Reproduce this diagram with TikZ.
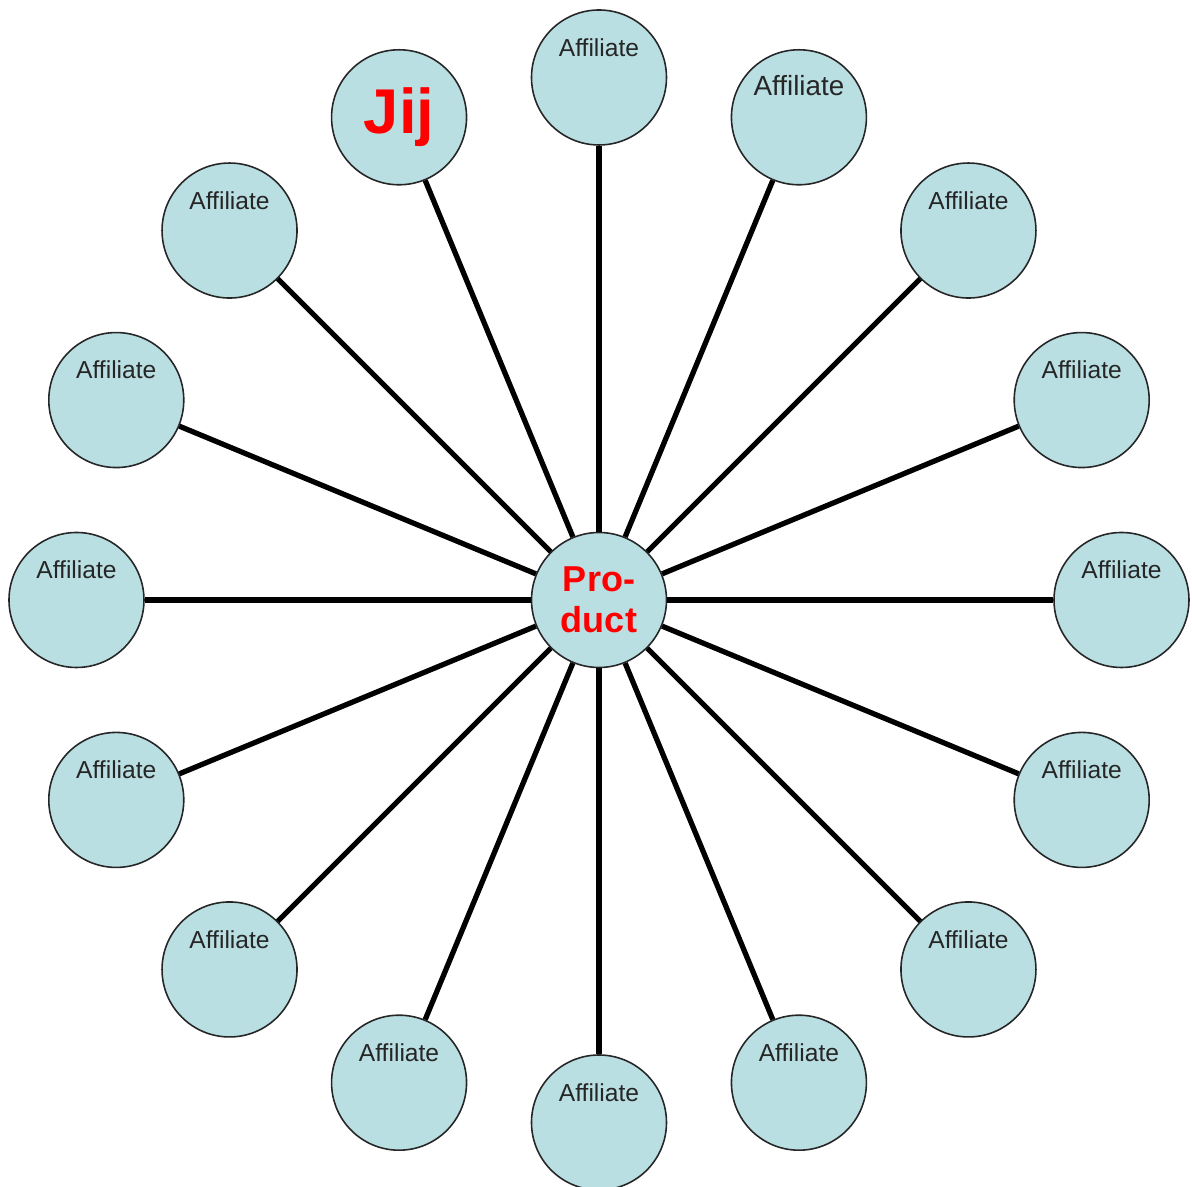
\documentclass[tikz,border=0pt]{standalone}
\usepackage{fontspec}
\setmainfont{Liberation Sans}
\usetikzlibrary{positioning}
\definecolor{affblue}{RGB}{186,223,227}

\begin{document}
\begin{tikzpicture}[
    circnode/.style={draw=black!85, line width=0.9pt, circle, fill=affblue, minimum size=2.7cm, inner sep=0pt},
    afftext/.style={anchor=base, inner sep=0pt, font=\fontsize{14}{16}\selectfont, text=black!85},
    spoke/.style={line width=3pt, black}
]
    \useasboundingbox (-11.98,-11.74) rectangle (11.86,12);
    \node[circnode, font=\fontsize{20.5}{23.3}\selectfont\bfseries, text=red, align=center] (prod) at (0,0) {Pro-\\duct};
    % affiliates round the product
    \foreach \n in {0,2,3,...,14} {
        \node[circnode] (aff\n) at ({90-22.5*\n}:10.45) {};
        \node[afftext] (lbl\n) at ([yshift=-0.94cm]aff\n.north) {Affiliate};
    }
    \node[circnode] (aff1) at (67.5:10.45) {};
    \node[afftext, font=\fontsize{15.8}{18}\selectfont] (lbl1) at ([yshift=-0.94cm]aff1.north) {Affiliate};
    \node[circnode, font=\fontsize{36}{40}\selectfont\bfseries, text=red] (aff15) at (112.5:10.45) {Jij};
    % spokes
    \foreach \n in {0,...,15} \draw[spoke] (prod) -- (aff\n);
\end{tikzpicture}
\end{document}
